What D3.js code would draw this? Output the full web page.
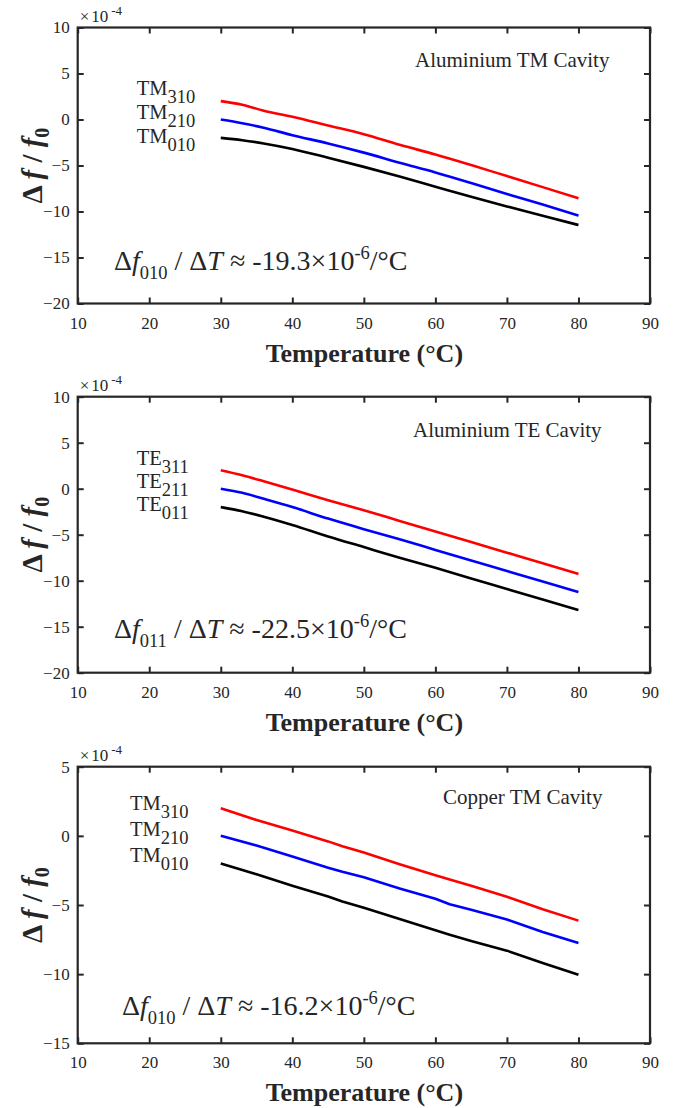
<!DOCTYPE html>
<html>
<head>
<meta charset="utf-8">
<script src="https://cdn.jsdelivr.net/npm/d3@7"></script>
<style>
  html, body { margin: 0; padding: 0; background: #fff; }
  svg { display: block; }
  text { font-family: "Liberation Serif", "Times New Roman", serif; fill: #262626; }
</style>
</head>
<body>
<svg id="chart" width="685" height="1108"></svg>
<script>
// Temperature sample points (°C)
const tempsAl = [30, 33, 36, 40, 45, 50, 55, 60, 65, 70, 75, 80];
const tempsCu = [30, 35, 40, 45, 47, 50, 55, 60, 62, 65, 70, 75, 80];

// Fractional frequency shift, units of 1e-4
// Aluminium TM cavity
const alTM310 = [2.0, 1.6, 0.95, 0.3, -0.65, -1.6, -2.75, -3.8, -4.95, -6.15, -7.35, -8.57];
const alTM210 = [0.0, -0.4, -0.9, -1.7, -2.6, -3.6, -4.7, -5.75, -6.9, -8.1, -9.25, -10.45];
const alTM010 = [-2.0, -2.25, -2.6, -3.2, -4.15, -5.15, -6.2, -7.3, -8.4, -9.45, -10.45, -11.47];
// Aluminium TE cavity
const alTE311 = [2.0, 1.45, 0.8, -0.1, -1.25, -2.35, -3.5, -4.65, -5.8, -6.95, -8.1, -9.27];
const alTE211 = [0.0, -0.45, -1.1, -2.0, -3.25, -4.4, -5.5, -6.65, -7.8, -8.95, -10.1, -11.23];
const alTE011 = [-2.0, -2.45, -3.05, -3.95, -5.2, -6.35, -7.5, -8.6, -9.75, -10.9, -12.05, -13.18];
// Copper TM cavity
const cuTM310 = [2.0, 1.15, 0.38, -0.4, -0.75, -1.2, -2.05, -2.85, -3.15, -3.6, -4.4, -5.3, -6.13];
const cuTM210 = [0.0, -0.7, -1.5, -2.3, -2.6, -3.0, -3.8, -4.55, -4.95, -5.35, -6.05, -6.95, -7.75];
const cuTM010 = [-2.0, -2.78, -3.6, -4.38, -4.75, -5.2, -6.02, -6.83, -7.15, -7.6, -8.3, -9.2, -10.04];

// Axis ticks
const xTicks = [10, 20, 30, 40, 50, 60, 70, 80, 90];
const yTicksAl = [-20, -15, -10, -5, 0, 5, 10];
const yTicksCu = [-15, -10, -5, 0, 5];

const panels = [
  {
    top: 27.5, bottom: 303.5, yDomain: [-20, 10], yTicks: yTicksAl, temps: tempsAl,
    series: [alTM310, alTM210, alTM010], curve: d3.curveMonotoneX,
    title: "Aluminium TM Cavity", titleX: 415, titleDy: 39,
    modes: [["TM", "310"], ["TM", "210"], ["TM", "010"]], modeX: 136.7, modeY: 95, modeStep: 23.8,
    eqSub: "010", eqVal: "-19.3", eqX: 114, eqDy: -34
  },
  {
    top: 396.7, bottom: 672.7, yDomain: [-20, 10], yTicks: yTicksAl, temps: tempsAl,
    series: [alTE311, alTE211, alTE011], curve: d3.curveMonotoneX,
    title: "Aluminium TE Cavity", titleX: 413, titleDy: 40,
    modes: [["TE", "311"], ["TE", "211"], ["TE", "011"]], modeX: 136.7, modeY: 465, modeStep: 23.2,
    eqSub: "011", eqVal: "-22.5", eqX: 114, eqDy: -35
  },
  {
    top: 766.7, bottom: 1043.3, yDomain: [-15, 5], yTicks: yTicksCu, temps: tempsCu,
    series: [cuTM310, cuTM210, cuTM010], curve: d3.curveLinear,
    title: "Copper TM Cavity", titleX: 443, titleDy: 37.7,
    modes: [["TM", "310"], ["TM", "210"], ["TM", "010"]], modeX: 130, modeY: 810, modeStep: 25.8,
    eqSub: "010", eqVal: "-16.2", eqX: 122, eqDy: -28
  }
];

const colors = ["#ff0000", "#0000ff", "#000000"];
const left = 77.7, right = 650;
const axisColor = "#262626";
const tickFont = "17px";
const svg = d3.select("#chart");

const x = d3.scaleLinear().domain([10, 90]).range([left, right]);

panels.forEach(p => {
  const y = d3.scaleLinear().domain(p.yDomain).range([p.bottom, p.top]);
  const g = svg.append("g");

  // data lines
  p.series.forEach((vals, i) => {
    const pts = p.temps.map((t, k) => [t, vals[k]]);
    g.append("path")
      .datum(pts)
      .attr("fill", "none")
      .attr("stroke", colors[i])
      .attr("stroke-width", 2.6)
      .attr("stroke-linejoin", "round")
      .attr("d", d3.line().x(d => x(d[0])).y(d => y(d[1])).curve(p.curve));
  });

  // axes: ticks pointing inward on all four sides
  const tick = 6;
  const axB = g.append("g").attr("transform", `translate(0,${p.bottom})`)
    .call(d3.axisBottom(x).tickValues(xTicks).tickSizeInner(-tick).tickSizeOuter(0).tickPadding(13));
  const axT = g.append("g").attr("transform", `translate(0,${p.top})`)
    .call(d3.axisTop(x).tickValues(xTicks).tickSizeInner(-tick).tickSizeOuter(0).tickFormat(""));
  const axL = g.append("g").attr("transform", `translate(${left},0)`)
    .call(d3.axisLeft(y).tickValues(p.yTicks).tickSizeInner(-tick).tickSizeOuter(0).tickPadding(8));
  const axR = g.append("g").attr("transform", `translate(${right},0)`)
    .call(d3.axisRight(y).tickValues(p.yTicks).tickSizeInner(-tick).tickSizeOuter(0).tickFormat(""));
  [axB, axT, axL, axR].forEach(a => {
    a.attr("font-size", null).attr("font-family", null);
    a.select(".domain").remove();
    a.selectAll(".tick line").attr("stroke", axisColor).attr("stroke-width", 2);
    a.selectAll(".tick text")
      .attr("fill", axisColor)
      .style("font-size", tickFont);
  });
  axB.selectAll(".tick text").attr("dy", "0.71em");

  // plot box
  g.append("rect")
    .attr("x", left).attr("y", p.top)
    .attr("width", right - left).attr("height", p.bottom - p.top)
    .attr("fill", "none").attr("stroke", axisColor).attr("stroke-width", 2.2);

  // exponent marker
  const ex = g.append("text").attr("x", left + 2).attr("y", p.top - 6).style("font-size", tickFont);
  ex.append("tspan").text("×");
  ex.append("tspan").attr("dx", 2).text("10");
  ex.append("tspan").attr("dy", -7).attr("dx", 3).style("font-size", "13px").text("-4");

  // x axis title
  g.append("text")
    .attr("x", (left + right) / 2 + 0.5).attr("y", p.bottom + 58)
    .attr("text-anchor", "middle")
    .style("font-size", "26px").style("font-weight", "bold")
    .text("Temperature (°C)");

  // y axis title
  const yt = g.append("text")
    .attr("transform", `translate(42,${(p.top + p.bottom) / 2}) rotate(-90)`)
    .attr("text-anchor", "middle")
    .style("font-size", "29px").style("font-weight", "bold");
  yt.append("tspan").text("Δ ");
  yt.append("tspan").style("font-style", "italic").text("f");
  yt.append("tspan").text(" / ");
  yt.append("tspan").style("font-style", "italic").text("f");
  yt.append("tspan").attr("dy", 7).style("font-size", "20px").text("0");

  // cavity title
  g.append("text")
    .attr("x", p.titleX).attr("y", p.top + p.titleDy)
    .style("font-size", "21px")
    .text(p.title);

  // mode labels
  p.modes.forEach((m, i) => {
    const t = g.append("text")
      .attr("x", p.modeX).attr("y", p.modeY + i * p.modeStep)
      .style("font-size", "20.5px").attr("fill", "#000");
    t.append("tspan").text(m[0]);
    t.append("tspan").attr("dy", 8).style("font-size", "18.5px").text(m[1]);
  });

  // slope annotation
  const eq = g.append("text")
    .attr("x", p.eqX).attr("y", p.bottom + p.eqDy)
    .style("font-size", "28px").attr("fill", "#000");
  eq.append("tspan").text("Δ");
  eq.append("tspan").style("font-style", "italic").text("f");
  eq.append("tspan").attr("dy", 9).style("font-size", "18.5px").text(p.eqSub);
  eq.append("tspan").attr("dy", -9).text(" / Δ");
  eq.append("tspan").style("font-style", "italic").text("T");
  eq.append("tspan").text(" ≈ " + p.eqVal + "×10");
  eq.append("tspan").attr("dy", -11).style("font-size", "18.5px").text("-6");
  eq.append("tspan").attr("dy", 11).text("/°C");
});
</script>
</body>
</html>
